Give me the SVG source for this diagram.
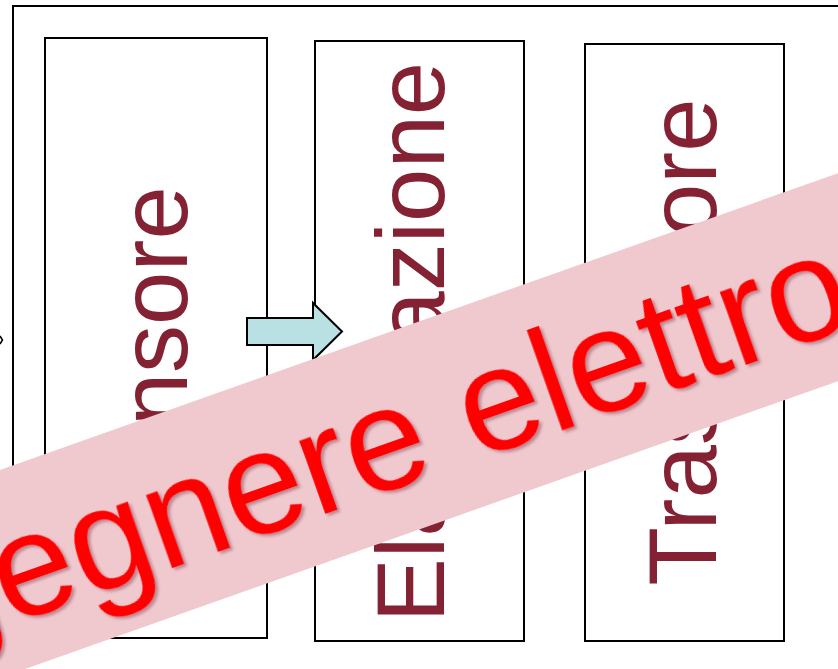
<svg xmlns="http://www.w3.org/2000/svg" width="838" height="669" viewBox="0 0 838 669">
  <defs>
    <style>
      .frame { fill: #ffffff; stroke: #000000; stroke-width: 2; }
      .label { font-family: "Liberation Sans", Arial, sans-serif; font-size: 96px; fill: #842234; }
      .flow { fill: #B9E0E3; stroke: #000000; stroke-width: 2; stroke-linejoin: miter; }
      .banner-text { font-family: "Liberation Sans", Arial, sans-serif; font-size: 146px; fill: #FF0000; }
    </style>
    <filter id="softShadow" x="-10%" y="-30%" width="120%" height="160%">
      <feDropShadow dx="2" dy="3" stdDeviation="1.8" flood-color="#7a3040" flood-opacity="0.45"/>
    </filter>
  </defs>

  <!-- outer container -->
  <g id="outer">
    <rect class="frame" x="13" y="6" width="840" height="680"/>
    <path d="M0,336 L2.5,340 L0,344" fill="none" stroke="#000" stroke-width="1.5"/>
  </g>

  <!-- processing chain blocks -->
  <g id="sensore">
    <rect class="frame" x="45" y="38" width="222" height="600"/>
    <text class="label" text-anchor="middle" transform="translate(187,365) rotate(-90)">Sensore</text>
  </g>

  <g id="elaborazione">
    <rect class="frame" x="315" y="41" width="209" height="600"/>
    <text class="label" text-anchor="middle" transform="translate(444,342) rotate(-90)">Elaborazione</text>
  </g>

  <g id="trasduttore">
    <rect class="frame" x="585" y="44" width="199" height="597"/>
    <text class="label" text-anchor="middle" transform="translate(716,342) rotate(-90)">Trasduttore</text>
  </g>

  <!-- connectors -->
  <g id="connectors">
    <polygon class="flow" points="247,318 313,318 313,303 342,331.5 313,360 313,345 247,345"/>
  </g>

  <!-- diagonal banner -->
  <g id="banner" transform="rotate(-19.5)">
    <rect x="-500" y="443" width="2200" height="196" fill="#F0C9CF"/>
    <text class="banner-text" x="283" y="593" text-anchor="middle" filter="url(#softShadow)">Ingegnere elettronico</text>
  </g>
</svg>
